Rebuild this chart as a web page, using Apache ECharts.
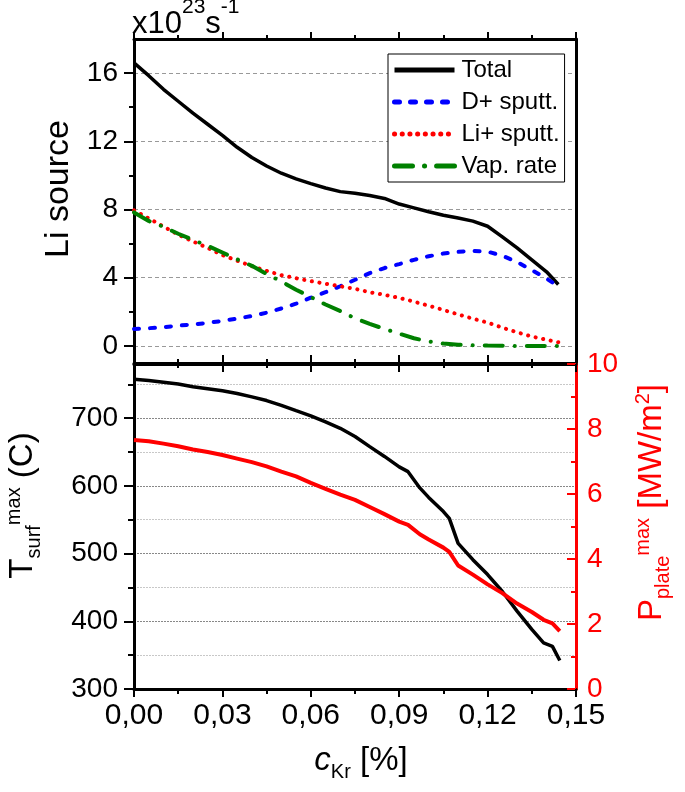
<!DOCTYPE html>
<html>
<head>
<meta charset="utf-8">
<script src="https://cdn.jsdelivr.net/npm/echarts@6/dist/echarts.min.js"></script>
<style>
  html, body { margin: 0; padding: 0; background: #fff; }
  #chart { width: 685px; height: 792px; }
</style>
</head>
<body>
<div id="chart"></div>
<script>
// Upper panel: Li source terms (x10^23 s^-1) vs Kr concentration [%]
const cKrTop = [0, 0.005, 0.01, 0.015, 0.02, 0.025, 0.03, 0.035, 0.04, 0.045, 0.05, 0.055, 0.06, 0.065, 0.07,
  0.075, 0.08, 0.085, 0.09, 0.095, 0.1, 0.105, 0.11, 0.115, 0.12, 0.125, 0.13, 0.135, 0.14, 0.144];
const totalSource = [16.6, 15.85, 15.05, 14.35, 13.65, 13.0, 12.35, 11.65, 11.05, 10.55, 10.13, 9.8, 9.52, 9.26, 9.05,
  8.95, 8.82, 8.65, 8.32, 8.1, 7.87, 7.66, 7.5, 7.32, 7.02, 6.4, 5.75, 5.05, 4.35, 3.6];
const dSputt = [1.0, 1.04, 1.1, 1.19, 1.26, 1.35, 1.47, 1.6, 1.76, 1.95, 2.2, 2.48, 2.83, 3.15, 3.5,
  3.88, 4.27, 4.57, 4.8, 5.05, 5.26, 5.42, 5.52, 5.57, 5.53, 5.29, 4.92, 4.45, 3.95, 3.5];
const liSputt = [7.95, 7.48, 7.0, 6.53, 6.13, 5.75, 5.33, 5.0, 4.68, 4.4, 4.15, 3.97, 3.8, 3.65, 3.5,
  3.35, 3.15, 3.0, 2.82, 2.6, 2.36, 2.11, 1.85, 1.6, 1.37, 1.07, 0.8, 0.55, 0.36, 0.22];
const vapRate = [7.83, 7.33, 6.99, 6.58, 6.22, 5.87, 5.48, 5.08, 4.7, 4.22, 3.78, 3.3, 2.87, 2.43, 2.05,
  1.62, 1.29, 1.0, 0.72, 0.45, 0.26, 0.14, 0.07, 0.04, 0.02, 0.01, 0, 0, 0, 0];

// Lower panel: max surface temperature (C) and max plate power (MW/m^2)
const cKrBottom = [0, 0.005, 0.01, 0.015, 0.02, 0.025, 0.03, 0.035, 0.04, 0.045, 0.05, 0.055, 0.06, 0.065, 0.07,
  0.075, 0.08, 0.085, 0.09, 0.093, 0.097, 0.1, 0.105, 0.107, 0.11, 0.115, 0.12, 0.125, 0.13, 0.135, 0.139, 0.142, 0.1445];
const tSurfMax = [757.5, 755.5, 753, 750.5, 746.5, 743.5, 740.5, 736.5, 731.5, 726, 719, 711, 703.5, 694.5, 685,
  673, 658, 643.5, 628, 621, 597, 583, 562, 552, 515, 491, 469, 444, 415, 388, 368, 363, 342];
const pPlateMax = [7.66, 7.62, 7.55, 7.47, 7.37, 7.29, 7.2, 7.09, 6.98, 6.85, 6.69, 6.54, 6.34, 6.16, 5.98,
  5.82, 5.6, 5.38, 5.15, 5.05, 4.76, 4.6, 4.35, 4.22, 3.8, 3.52, 3.22, 2.95, 2.63, 2.37, 2.13, 2.02, 1.78];

// Tick values
const liTicks = [0, 4, 8, 12, 16];
const liMinorTicks = [2, 6, 10, 14];
const tTicks = [300, 400, 500, 600, 700];
const tMinorTicks = [350, 450, 550, 650, 750];
const legendNames = ['Total', 'D+ sputt.', 'Li+ sputt.', 'Vap. rate'];

const FONT = '"Liberation Sans", Arial, sans-serif';
const zip = (xs, ys) => xs.map((x, i) => [x, ys[i]]);

const chart = echarts.init(document.getElementById('chart'), null, { renderer: 'canvas' });

const axisLine = (color) => ({ show: true, onZero: false, lineStyle: { color: color || '#000', width: 3 } });

// x axes: shared 0..0.15 scale, one on each edge of both panels
const xBase = (gridIndex, position, opts) => Object.assign({
  type: 'value',
  gridIndex,
  position,
  min: 0,
  max: 0.15,
  interval: 0.03,
  axisLine: axisLine(),
  axisTick: { show: true, inside: false, length: 8, lineStyle: { color: '#000', width: 2 } },
  minorTick: { show: true, splitNumber: 2, length: 5, lineStyle: { color: '#000', width: 2 } },
  axisLabel: { show: false },
  splitLine: { show: false },
  minorSplitLine: { show: false },
}, opts);

const richSubSup = (color) => ({
  m: { fontSize: 33, lineHeight: 33, padding: [4, 0, 5, 0], color, fontFamily: FONT },
  i: { fontSize: 33, lineHeight: 33, padding: [4, 0, 5, 0], color, fontFamily: FONT, fontStyle: 'italic' },
  sub: { fontSize: 20, lineHeight: 20, padding: [22, 0, 0, 0], color, fontFamily: FONT },
  sup: { fontSize: 20, lineHeight: 20, padding: [2, 0, 20, 0], color, fontFamily: FONT },
});

const option = {
  backgroundColor: '#fff',
  animation: false,
  title: {
    text: '{a|x10}{b|23}{a|s}{b|-1}',
    left: 132,
    top: 3,
    padding: 0,
    textStyle: {
      fontWeight: 'normal',
      rich: {
        a: { fontSize: 31, lineHeight: 31, padding: [12, 0, 0, 0], color: '#000', fontFamily: FONT, fontWeight: 'normal' },
        b: { fontSize: 21, lineHeight: 21, padding: [0, 0, 22, 0], color: '#000', fontFamily: FONT, fontWeight: 'normal' },
      },
    },
  },
  legend: {
    data: legendNames,
    orient: 'vertical',
    left: 388,
    top: 54,
    padding: [4, 5, 4, 4],
    itemWidth: 60,
    itemHeight: 14,
    itemGap: 8,
    borderColor: '#000',
    borderWidth: 1,
    borderRadius: 0,
    backgroundColor: '#fff',
    itemStyle: { opacity: 0, borderWidth: 0 },
    lineStyle: { width: 5 },
    textStyle: { fontSize: 24, color: '#000', fontFamily: FONT, padding: [0, 0, 0, 2] },
  },
  grid: [
    { left: 134, right: 109, top: 39, height: 324, outerBoundsMode: 'none' },
    { left: 134, right: 109, top: 364, height: 325, outerBoundsMode: 'none' },
  ],
  xAxis: [
    xBase(0, 'bottom', { axisTick: { show: true, inside: true, length: 8, lineStyle: { color: '#000', width: 2 } },
      minorTick: { show: true, splitNumber: 2, length: 4, lineStyle: { color: '#000', width: 2 } } }),
    xBase(0, 'top', { axisTick: { show: true, inside: false, length: 7, lineStyle: { color: '#000', width: 2 } },
      minorTick: { show: true, splitNumber: 2, length: 4, lineStyle: { color: '#000', width: 2 } } }),
    xBase(1, 'bottom', {
      axisLabel: {
        show: true,
        fontSize: 30,
        color: '#000',
        fontFamily: FONT,
        margin: 12,
        formatter: (v) => v.toFixed(2).replace('.', ','),
      },
      name: '{i|c}{sub|Kr}{m| [%]}',
      nameLocation: 'middle',
      nameGap: 56,
      nameTextStyle: { padding: [0, 0, 0, 12], rich: richSubSup('#000') },
    }),
    xBase(1, 'top', { axisTick: { show: true, inside: true, length: 8, lineStyle: { color: '#000', width: 2 } },
      minorTick: { show: true, splitNumber: 2, length: 4, lineStyle: { color: '#000', width: 2 } } }),
  ],
  yAxis: [
    {
      type: 'value',
      gridIndex: 0,
      position: 'left',
      min: -1,
      max: 18,
      axisLine: axisLine(),
      axisTick: { show: true, length: 10, customValues: liTicks, lineStyle: { color: '#000', width: 2 } },
      axisLabel: { show: true, customValues: liTicks, fontSize: 28, color: '#000', fontFamily: FONT, margin: 16 },
      splitLine: { show: true, lineStyle: { color: '#999', width: 1, type: [4, 3] } },
      name: 'Li source',
      nameLocation: 'middle',
      nameRotate: 90,
      nameGap: 58,
      nameTextStyle: { fontSize: 34, color: '#000', fontFamily: FONT, padding: [0, 0, 0, 24] },
    },
    {
      type: 'value',
      gridIndex: 0,
      position: 'left',
      min: -1,
      max: 18,
      axisLine: { show: false, onZero: false },
      axisTick: { show: true, length: 5, customValues: liMinorTicks, lineStyle: { color: '#000', width: 2 } },
      axisLabel: { show: false },
      splitLine: { show: false },
    },
    {
      type: 'value',
      gridIndex: 0,
      position: 'right',
      min: -1,
      max: 18,
      axisLine: axisLine(),
      axisTick: { show: false },
      axisLabel: { show: false },
      splitLine: { show: false },
    },
    {
      type: 'value',
      gridIndex: 1,
      position: 'left',
      min: 300,
      max: 780,
      axisLine: axisLine(),
      axisTick: { show: true, length: 10, customValues: tTicks, lineStyle: { color: '#000', width: 2 } },
      axisLabel: { show: true, customValues: tTicks, fontSize: 28, color: '#000', fontFamily: FONT, margin: 16 },
      splitLine: { show: true, lineStyle: { color: '#888', width: 1, type: [2, 1] } },
      name: '{m|T}{sub|surf}{sup|max}{m| (C)}',
      nameLocation: 'middle',
      nameRotate: 90,
      nameGap: 94,
      nameTextStyle: { padding: [0, 0, 0, 42], rich: richSubSup('#000') },
    },
    {
      type: 'value',
      gridIndex: 1,
      position: 'left',
      min: 300,
      max: 780,
      axisLine: { show: false, onZero: false },
      axisTick: { show: true, length: 6, customValues: tMinorTicks, lineStyle: { color: '#000', width: 2 } },
      axisLabel: { show: false },
      splitLine: { show: true, lineStyle: { color: '#c8c8c8', width: 1, type: [2, 1] } },
    },
    {
      type: 'value',
      gridIndex: 1,
      position: 'right',
      min: 0,
      max: 10,
      interval: 2,
      axisLine: axisLine('#ff0000'),
      axisTick: { show: true, inside: true, length: 9, lineStyle: { color: '#ff0000', width: 2 } },
      minorTick: { show: true, splitNumber: 2, length: 5, lineStyle: { color: '#ff0000', width: 2 } },
      axisLabel: { show: true, fontSize: 28, color: '#ff0000', fontFamily: FONT, margin: 11 },
      splitLine: { show: false },
      name: '{m|P}{sub|plate}{sup|max}{m| [MW/m}{sup|2}{m|]}',
      nameLocation: 'middle',
      nameRotate: 90,
      nameGap: 60,
      nameTextStyle: { padding: [0, 0, 0, 48], rich: richSubSup('#ff0000') },
    },
  ],
  series: [
    {
      name: 'Total',
      type: 'line',
      xAxisIndex: 0,
      yAxisIndex: 0,
      symbol: 'none',
      data: zip(cKrTop, totalSource),
      lineStyle: { color: '#000', width: 3.5 },
      itemStyle: { color: '#000' },
    },
    {
      name: 'D+ sputt.',
      type: 'line',
      xAxisIndex: 0,
      yAxisIndex: 0,
      symbol: 'none',
      data: zip(cKrTop, dSputt),
      lineStyle: { color: '#0000ff', width: 4, type: [5, 11], cap: 'round' },
      itemStyle: { color: '#0000ff' },
    },
    {
      name: 'Li+ sputt.',
      type: 'line',
      xAxisIndex: 0,
      yAxisIndex: 0,
      symbol: 'none',
      data: zip(cKrTop, liSputt),
      lineStyle: { color: '#ff0000', width: 4, type: [0.1, 7.6], cap: 'round' },
      itemStyle: { color: '#ff0000' },
    },
    {
      name: 'Vap. rate',
      type: 'line',
      xAxisIndex: 0,
      yAxisIndex: 0,
      symbol: 'none',
      data: zip(cKrTop, vapRate),
      lineStyle: { color: '#008000', width: 4, type: [18, 12, 0.1, 12], cap: 'round' },
      itemStyle: { color: '#008000' },
    },
    {
      name: 'T surf max',
      type: 'line',
      xAxisIndex: 2,
      yAxisIndex: 3,
      symbol: 'none',
      data: zip(cKrBottom, tSurfMax),
      lineStyle: { color: '#000', width: 3.5 },
      itemStyle: { color: '#000' },
    },
    {
      name: 'P plate max',
      type: 'line',
      xAxisIndex: 2,
      yAxisIndex: 5,
      symbol: 'none',
      data: zip(cKrBottom, pPlateMax),
      lineStyle: { color: '#ff0000', width: 4 },
      itemStyle: { color: '#ff0000' },
    },
  ],
};

chart.setOption(option);
</script>
</body>
</html>
